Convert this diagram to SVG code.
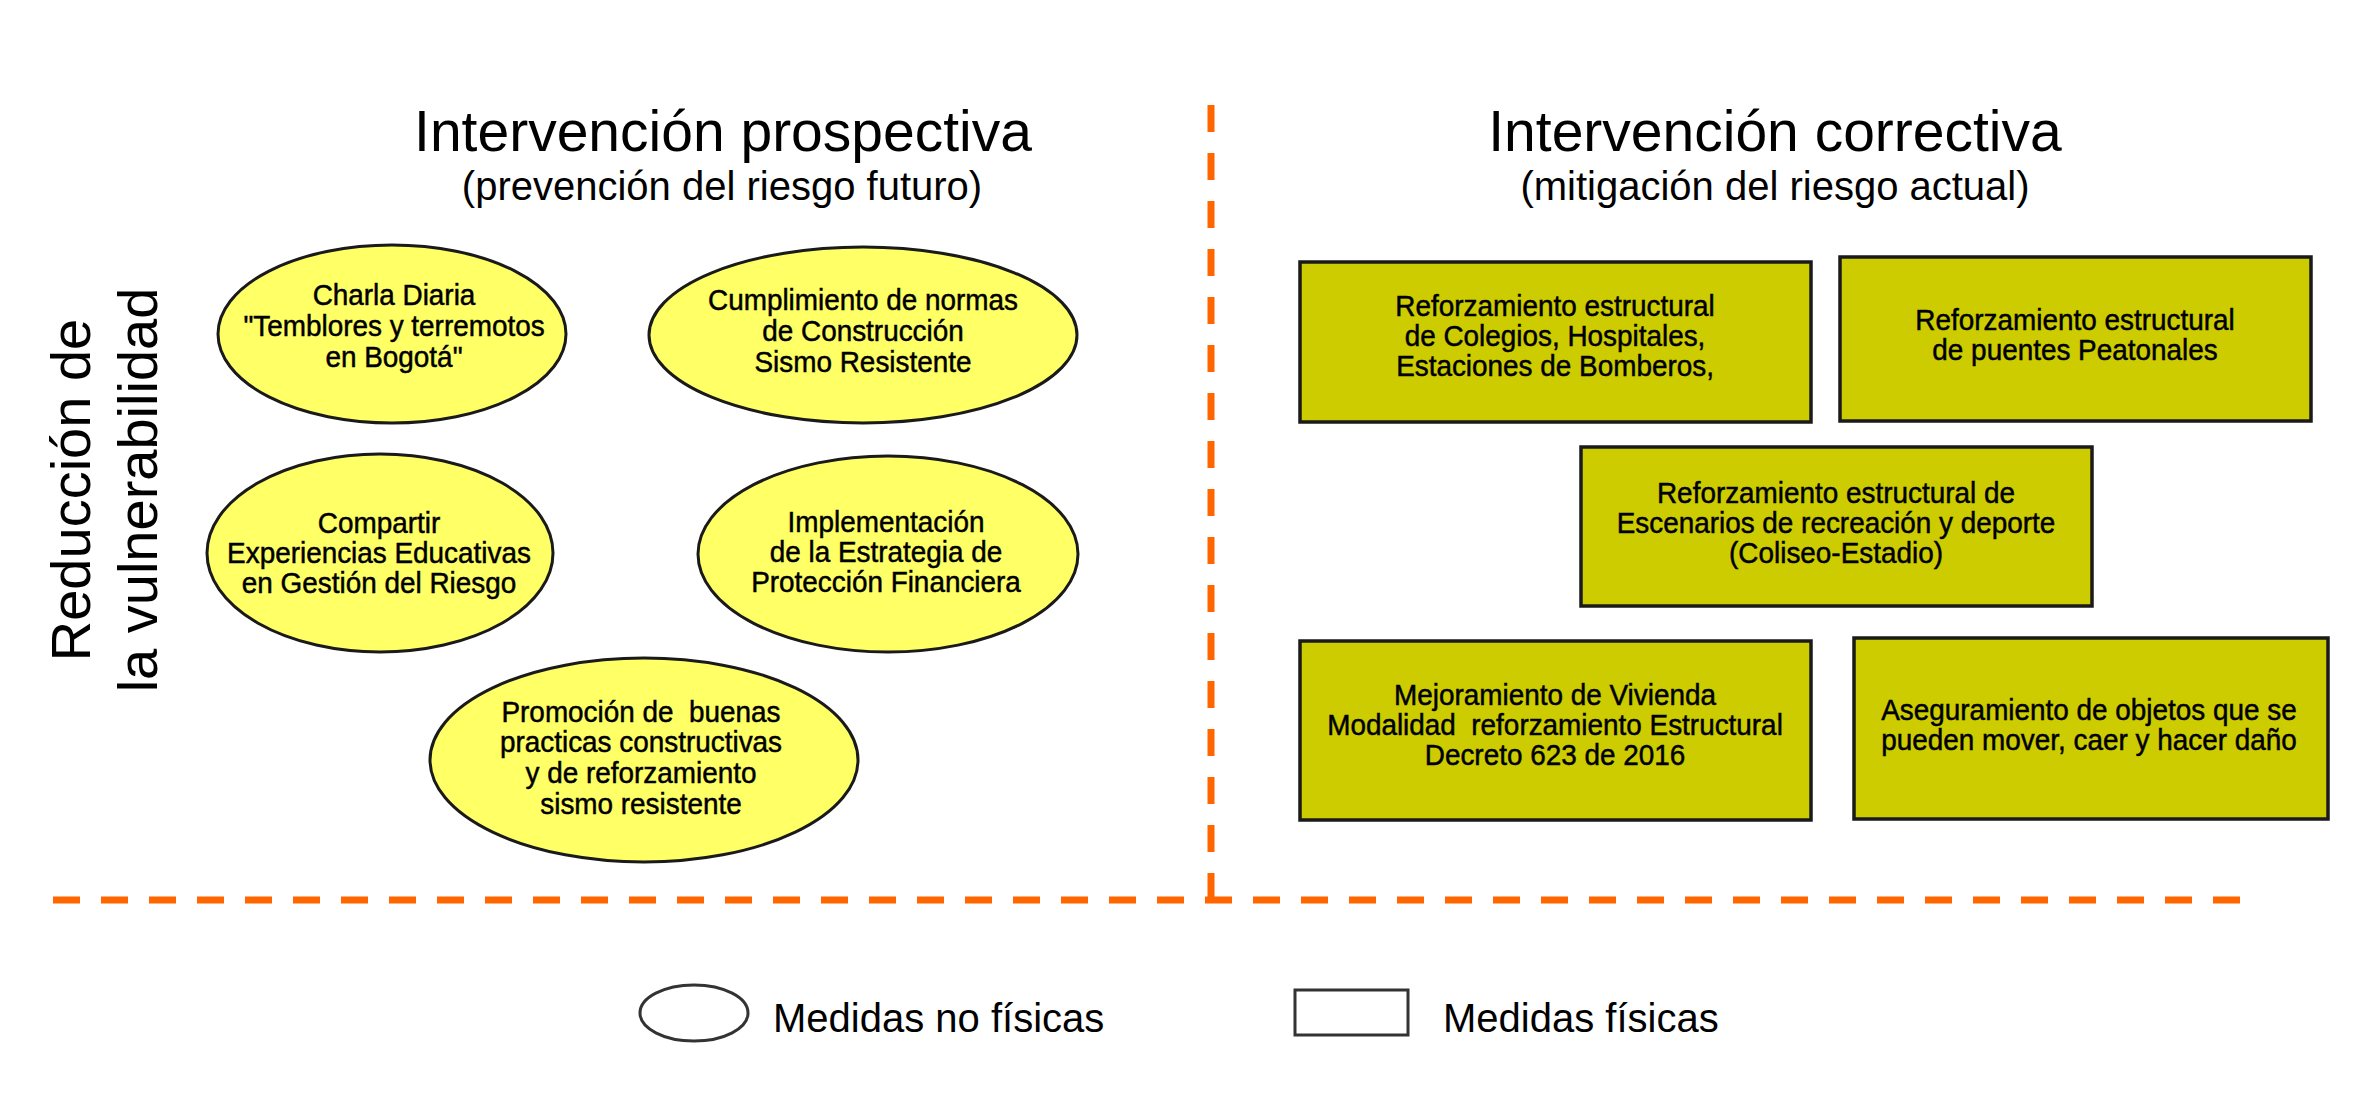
<svg xmlns="http://www.w3.org/2000/svg" width="2362" height="1104" viewBox="0 0 2362 1104">
<style>
.title{font-family:"Liberation Sans",Arial,sans-serif;font-size:57px;fill:#000;text-anchor:middle}
.sub{font-family:"Liberation Sans",Arial,sans-serif;font-size:40px;fill:#000;text-anchor:middle}
.side{font-family:"Liberation Sans",Arial,sans-serif;font-size:56px;fill:#000;text-anchor:middle}
.lbl{font-family:"Liberation Sans",Arial,sans-serif;font-size:30px;fill:#000;stroke:#000;stroke-width:0.5;text-anchor:middle}
.leg{font-family:"Liberation Sans",Arial,sans-serif;font-size:40px;fill:#000}
.ell{fill:#FFFF66;stroke:#1a1a1a;stroke-width:3}
.box{fill:#CCCC00;stroke:#1a1a1a;stroke-width:3.5}
.dash{stroke:#FF6600;stroke-width:7;stroke-dasharray:27 21;fill:none}
.legshape{fill:#fff;stroke:#333;stroke-width:3}
</style>
<rect width="2362" height="1104" fill="#fff"/>

<g id="titles">
<text class="title" x="723" y="151">Intervención prospectiva</text>
<text class="sub" x="722" y="200">(prevención del riesgo futuro)</text>
<text class="title" x="1775" y="151">Intervención correctiva</text>
<text class="sub" x="1775" y="200">(mitigación del riesgo actual)</text>
</g>

<g id="side-label">
<text class="side" transform="translate(90,490) rotate(-90)">Reducción de</text>
<text class="side" transform="translate(157,490) rotate(-90)">la vulnerabilidad</text>
</g>

<g id="dividers">
<line class="dash" x1="1211" y1="105" x2="1211" y2="901"/>
<line class="dash" x1="53" y1="900" x2="2245" y2="900"/>
</g>

<g id="n1">
<ellipse class="ell" cx="392" cy="334" rx="174" ry="89"/>
<g transform="translate(394,0) scale(0.93,1)">
<text class="lbl" x="0" y="305">Charla Diaria</text>
<text class="lbl" x="0" y="336">&quot;Temblores y terremotos</text>
<text class="lbl" x="0" y="367">en Bogotá&quot;</text>
</g>
</g>

<g id="n2">
<ellipse class="ell" cx="863" cy="335" rx="214" ry="88"/>
<g transform="translate(863,0) scale(0.93,1)">
<text class="lbl" x="0" y="310">Cumplimiento de normas</text>
<text class="lbl" x="0" y="341">de Construcción</text>
<text class="lbl" x="0" y="372">Sismo Resistente</text>
</g>
</g>

<g id="n3">
<ellipse class="ell" cx="380" cy="553" rx="173" ry="99"/>
<g transform="translate(379,0) scale(0.93,1)">
<text class="lbl" x="0" y="533">Compartir</text>
<text class="lbl" x="0" y="563">Experiencias Educativas</text>
<text class="lbl" x="0" y="593">en Gestión del Riesgo</text>
</g>
</g>

<g id="n4">
<ellipse class="ell" cx="888" cy="554" rx="190" ry="98"/>
<g transform="translate(886,0) scale(0.93,1)">
<text class="lbl" x="0" y="532">Implementación</text>
<text class="lbl" x="0" y="562">de la Estrategia de</text>
<text class="lbl" x="0" y="592">Protección Financiera</text>
</g>
</g>

<g id="n5">
<ellipse class="ell" cx="644" cy="760" rx="214" ry="102"/>
<g transform="translate(641,0) scale(0.93,1)">
<text class="lbl" x="0" y="722">Promoción de&#160; buenas</text>
<text class="lbl" x="0" y="752">practicas constructivas</text>
<text class="lbl" x="0" y="783">y de reforzamiento</text>
<text class="lbl" x="0" y="814">sismo resistente</text>
</g>
</g>

<g id="r1">
<rect class="box" x="1300" y="262" width="511" height="160"/>
<g transform="translate(1555,0) scale(0.93,1)">
<text class="lbl" x="0" y="316">Reforzamiento estructural</text>
<text class="lbl" x="0" y="346">de Colegios, Hospitales,</text>
<text class="lbl" x="0" y="376">Estaciones de Bomberos,</text>
</g>
</g>

<g id="r2">
<rect class="box" x="1840" y="257" width="471" height="164"/>
<g transform="translate(2075,0) scale(0.93,1)">
<text class="lbl" x="0" y="330">Reforzamiento estructural</text>
<text class="lbl" x="0" y="360">de puentes Peatonales</text>
</g>
</g>

<g id="r3">
<rect class="box" x="1581" y="447" width="511" height="159"/>
<g transform="translate(1836,0) scale(0.93,1)">
<text class="lbl" x="0" y="503">Reforzamiento estructural de</text>
<text class="lbl" x="0" y="533">Escenarios de recreación y deporte</text>
<text class="lbl" x="0" y="563">(Coliseo-Estadio)</text>
</g>
</g>

<g id="r4">
<rect class="box" x="1300" y="641" width="511" height="179"/>
<g transform="translate(1555,0) scale(0.93,1)">
<text class="lbl" x="0" y="705">Mejoramiento de Vivienda</text>
<text class="lbl" x="0" y="735">Modalidad&#160; reforzamiento Estructural</text>
<text class="lbl" x="0" y="765">Decreto 623 de 2016</text>
</g>
</g>

<g id="r5">
<rect class="box" x="1854" y="638" width="474" height="181"/>
<g transform="translate(2089,0) scale(0.93,1)">
<text class="lbl" x="0" y="720">Aseguramiento de objetos que se</text>
<text class="lbl" x="0" y="750">pueden mover, caer y hacer daño</text>
</g>
</g>

<g id="legend">
<ellipse class="legshape" cx="694" cy="1013" rx="54" ry="28"/>
<text class="leg" x="773" y="1032">Medidas no físicas</text>
<rect class="legshape" x="1295" y="990" width="113" height="45"/>
<text class="leg" x="1443" y="1032">Medidas físicas</text>
</g>
</svg>
